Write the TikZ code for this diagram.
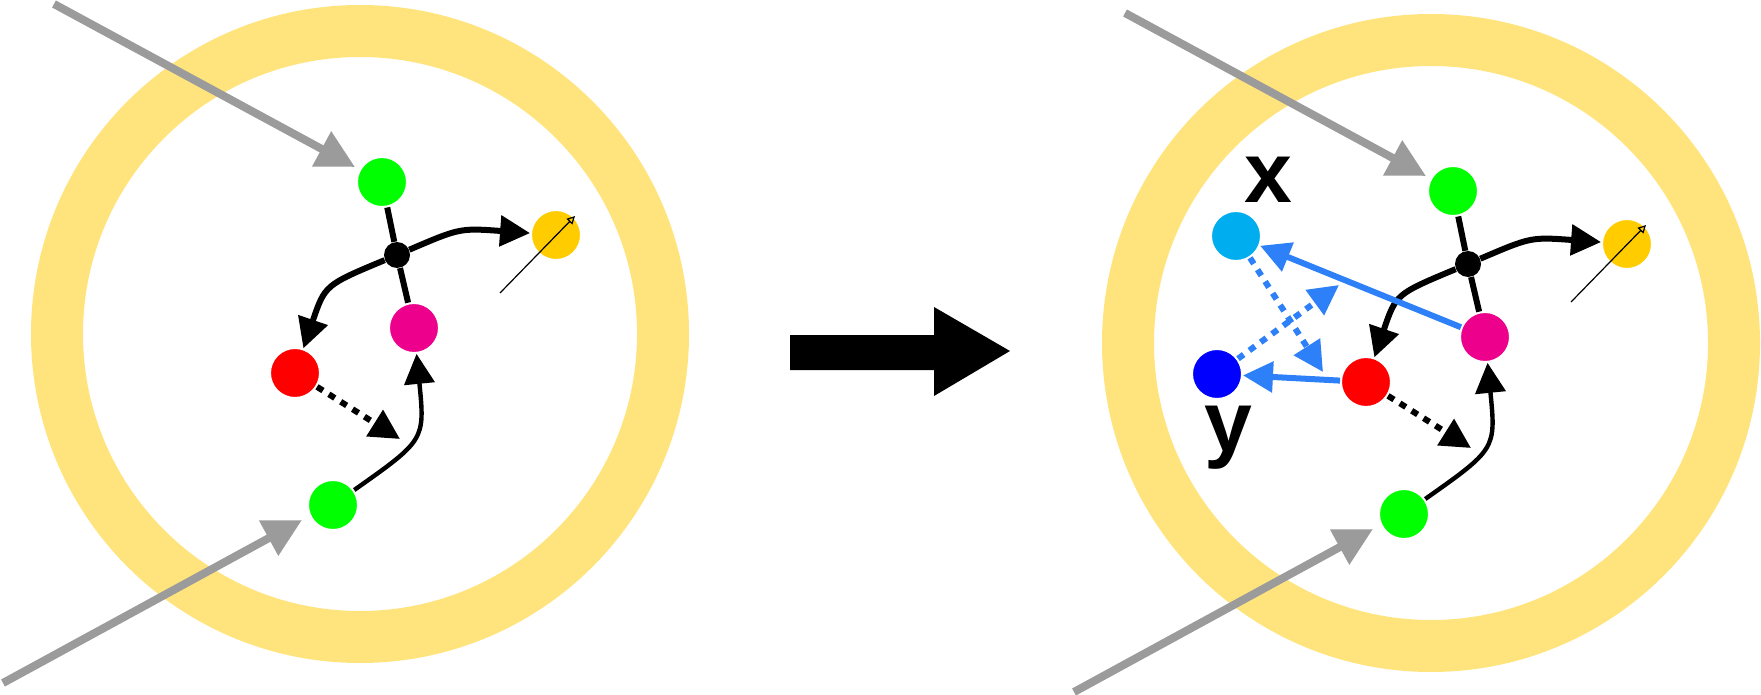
\documentclass[tikz,border=0pt]{standalone}
\usepackage{fontspec}
\setmainfont{Liberation Sans}
\usetikzlibrary{arrows.meta}
\definecolor{ring}{HTML}{FFE47E}
\definecolor{gr}{HTML}{9B9B9B}
\definecolor{bl}{HTML}{2E80F8}
\definecolor{yel}{HTML}{FFCC00}
\tikzset{
 atom/.style={circle,inner sep=0pt,minimum size=25pt,draw=white,line width=1pt},
 dot/.style={circle,inner sep=0pt,minimum size=13pt,fill=black},
 bigtip/.style={-{Triangle[length=15pt,width=15pt]}},
 graytip/.style={draw=gr,line width=4pt,-{Triangle[length=19pt,width=19pt]},color=gr},
 bond/.style={line width=3pt},
 dotted3/.style={line width=3pt,dash pattern=on 3.5pt off 3.5pt},
 lbl/.style={font=\bfseries\fontsize{43}{43}\selectfont,inner sep=0pt}
}
\newcommand\molecule[1]{%
 \draw[ring,line width=26pt] (360,334) circle[radius=303];
 \coordinate (#1g1s) at (54,4); \coordinate (#1g1e) at (355,167);
 \coordinate (#1g2s) at (3,683); \coordinate (#1g2e) at (302,520);
 \draw[graytip] (#1g1s) -- (#1g1e);
 \draw[graytip] (#1g2s) -- (#1g2e);
 \node[atom,fill=green] (#1G) at (382,182) {};
 \node[dot] (#1K) at (397,255) {};
 \node[atom,fill=magenta] (#1M) at (414,328) {};
 \node[atom,fill=yel] (#1Y) at (556,235) {};
 \node[atom,fill=red] (#1R) at (295,373) {};
 \node[atom,fill=green] (#1B) at (333,505) {};
 \draw[bond] (#1G) -- (#1K) -- (#1M);
 \draw[bond,bigtip] (#1K) .. controls (460,228) .. (#1Y);
 \draw[bond,bigtip] (#1K) .. controls (325,285) .. (#1R);
 \draw[line width=2.2pt,bigtip] (#1B) .. controls (425,440) .. (#1M);
 \coordinate (#1de) at (400,439);
 \draw[dotted3,bigtip] (#1R) -- (#1de);
 \coordinate (#1ts) at (500,293); \coordinate (#1te) at (575,216);
 \draw[line width=0.6pt,-{Triangle[open,length=4pt,width=4pt]}] (#1ts) -- (#1te);
}
\begin{document}
\begin{tikzpicture}[x=0.5pt,y=-0.5pt]
\useasboundingbox (0,0) rectangle (1761,695);
\molecule{L}
\begin{scope}[shift={(1071,9)}]
\molecule{R}
\end{scope}
% big arrow
\fill (790,335) -- (934,335) -- (934,307) -- (1010,351) -- (934,396) -- (934,370) -- (790,370) -- cycle;
% extra right nodes
\node[atom,fill=cyan] (C) at (1236,236) {};
\node[atom,fill=blue] (U) at (1217,374) {};
\node[lbl] (X) at (1268,180) {x};
\node[lbl] (Yl) at (1228,438) {y};
\draw[bl,line width=3pt,bigtip] (RM) -- (C);
\draw[bl,line width=3pt,bigtip] (RR) -- (U);
\coordinate (c1) at (1323,372);
\coordinate (c2) at (1339,285);
\draw[bl,dotted3,bigtip] (C) -- (c1);
\draw[bl,dotted3,bigtip] (U) -- (c2);
\end{tikzpicture}
\end{document}
